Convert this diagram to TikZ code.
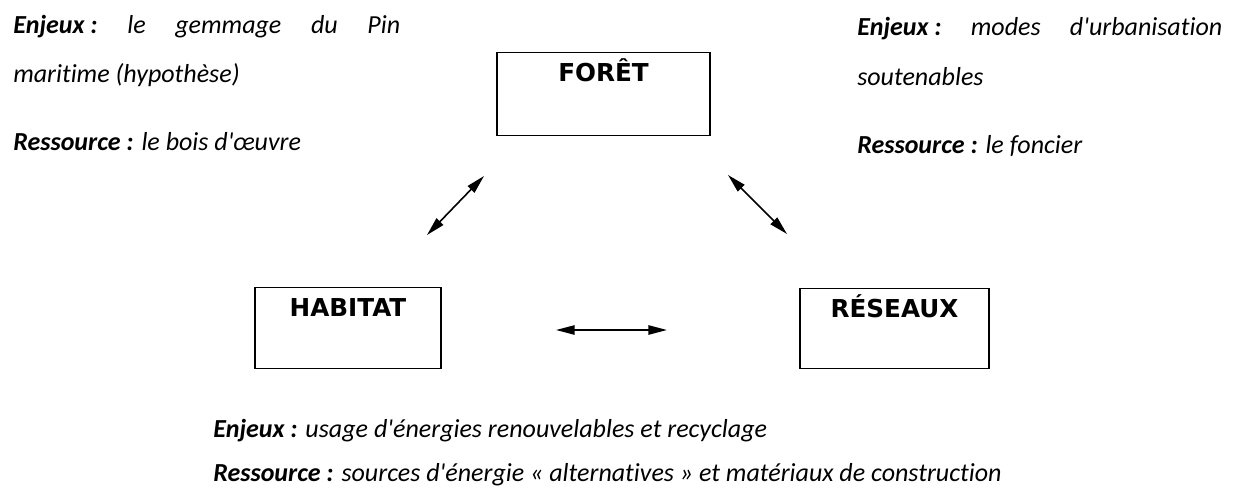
\documentclass[tikz,border=0pt]{standalone}
\usepackage{fontspec}
\setmainfont{Carlito}[Ligatures={TeX,NoCommon}]
\newfontfamily\titrefont{DejaVu Sans}
\usetikzlibrary{arrows.meta}
\newcommand\ap{\textquotesingle}
\newcommand\corps{\fontsize{19.5pt}{23pt}\selectfont}
\begin{document}
\begin{tikzpicture}[x=0.75pt,y=-0.75pt,
  boite/.style={draw,line width=1.1pt,anchor=north,inner xsep=0pt,inner ysep=0pt,
    text height=21.75pt,font=\titrefont\bfseries\fontsize{18.5pt}{20pt}\selectfont},
  txt/.style={anchor=base west,inner sep=0pt,font=\corps},
  fleche/.style={line width=1.2pt,{Triangle[length=14pt,width=7pt]}-{Triangle[length=14pt,width=7pt]}}]
  \useasboundingbox (0,0) rectangle (1234,490);

  % Les trois pôles
  \node[boite,minimum width=159.75pt,text depth=40.5pt] (foret) at (603.5,52) {FORÊT};
  \node[boite,minimum width=139.5pt,text depth=39pt] (habitat) at (348,287) {HABITAT};
  \node[boite,minimum width=141.75pt,text depth=38.25pt] (reseaux) at (894.5,288) {RÉSEAUX};

  % Flèches entre les pôles
  \coordinate (hf1) at (427,235);
  \coordinate (hf2) at (484,176);
  \coordinate (fr1) at (728,175);
  \coordinate (fr2) at (787,234);
  \coordinate (hr1) at (556,330);
  \coordinate (hr2) at (667,330);
  \draw[fleche] (hf1) -- (hf2);
  \draw[fleche] (fr1) -- (fr2);
  \draw[fleche] (hr1) -- (hr2);

  % Forêt : enjeux et ressource
  \node[txt] (enjeuxforet) at (13,33)
    {\makebox[290.25pt][s]{\textbf{\textit{\mbox{Enjeux :}}} \textit{le gemmage du Pin}}};
  \node[txt] (suiteforet) at (13,82) {\textit{maritime (hypothèse)}};
  \node[txt] (resforet) at (13,150) {\textbf{\textit{Ressource :}} \textit{le bois d\ap œuvre}};

  % Réseaux : enjeux et ressource
  \node[txt] (enjeuxreseaux) at (857,35)
    {\makebox[273.75pt][s]{\textbf{\textit{\mbox{Enjeux :}}} \textit{modes d\ap urbanisation}}};
  \node[txt] (suitereseaux) at (857,85) {\textit{soutenables}};
  \node[txt] (resreseaux) at (857,153) {\textbf{\textit{Ressource :}} \textit{le foncier}};

  % Habitat : enjeux et ressource
  \node[txt] (enjeuxhabitat) at (213,437)
    {\textbf{\textit{Enjeux :}} \textit{usage d\ap énergies renouvelables et recyclage}};
  \node[txt] (reshabitat) at (213,481)
    {\textbf{\textit{Ressource :}} \textit{sources d\ap énergie « alternatives » et matériaux de construction}};
\end{tikzpicture}
\end{document}
